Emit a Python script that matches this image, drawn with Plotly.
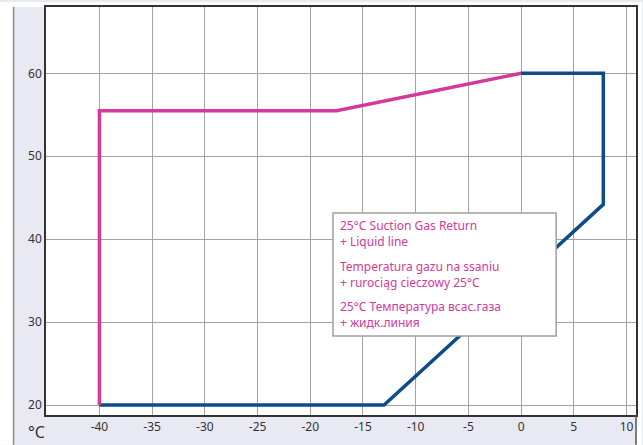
import plotly.graph_objects as go

# Data
pink_x = [-40, -40, -17.5, 0]
pink_y = [20, 55.5, 55.5, 60]
blue_x = [-40, -13, 7.8, 7.8, 0]
blue_y = [20, 20, 44.2, 60, 60]
x_ticks = [-40, -35, -30, -25, -20, -15, -10, -5, 0, 5, 10]
x_tick_labels = ["-40", "-35", "-30", "-25", "-20", "-15", "-10", "-5", "0", "5", "10"]
y_ticks = [20, 30, 40, 50, 60]
y_tick_labels = ["20", "30", "40", "50", "60"]
legend_blocks = [
    "25°C Suction Gas Return<br>+ Liquid line",
    "Temperatura gazu na ssaniu<br>+ rurociąg cieczowy 25°C",
    "25°C Температура всас.газа<br>+ жидк.линия",
]

PINK = "#D4399A"
BLUE = "#0E4B8A"
FONT = "Noto Sans"

W, H = 643, 445
L, R, T, B = 46, 6, 5, 30
pw, ph = W - L - R, H - T - B


def px2paper_x(px):
    return (px - L) / pw


def px2paper_y(py):
    return 1 - (py - T) / ph


fig = go.Figure()
fig.add_trace(go.Scatter(x=blue_x, y=blue_y, mode="lines",
                         line=dict(color=BLUE, width=3.5), hoverinfo="skip"))
fig.add_trace(go.Scatter(x=pink_x, y=pink_y, mode="lines",
                         line=dict(color=PINK, width=3.5), hoverinfo="skip"))

shapes = [
    # white area left of the panel
    dict(type="rect", xref="paper", yref="paper", x0=px2paper_x(0), x1=px2paper_x(13),
         y0=px2paper_y(H), y1=px2paper_y(0), fillcolor="white", line=dict(width=0), layer="below"),
    # white strip on top
    dict(type="rect", xref="paper", yref="paper", x0=px2paper_x(0), x1=px2paper_x(W),
         y0=1, y1=px2paper_y(0), fillcolor="white", line=dict(width=0), layer="below"),
    # white strip on the right
    dict(type="rect", xref="paper", yref="paper", x0=px2paper_x(637.5), x1=px2paper_x(W),
         y0=px2paper_y(H), y1=px2paper_y(0), fillcolor="white", line=dict(width=0), layer="below"),
    # panel borders
    dict(type="line", xref="paper", yref="paper", x0=px2paper_x(13.5), x1=px2paper_x(13.5),
         y0=px2paper_y(H), y1=1, line=dict(color="#8C8C8C", width=1.5)),
    dict(type="line", xref="paper", yref="paper", x0=1, x1=1,
         y0=px2paper_y(H), y1=0, line=dict(color="#555555", width=1.5)),
    # legend box
    dict(type="rect", xref="paper", yref="paper", x0=px2paper_x(333.5), x1=px2paper_x(557),
         y0=px2paper_y(335.5), y1=px2paper_y(212), fillcolor="white",
         line=dict(color="#A0A0A0", width=1.5), layer="above"),
]

fig.update_layout(
    width=W, height=H,
    margin=dict(l=L, r=R, t=T, b=B),
    paper_bgcolor="#E8E9F3",
    plot_bgcolor="white",
    showlegend=False,
    font=dict(family=FONT, color="#333333", size=12),
    xaxis=dict(range=[-45.07, 10.9], tickvals=x_ticks, ticktext=x_tick_labels, showgrid=True,
               gridcolor="#A3A3A3", gridwidth=1, zeroline=False,
               showline=True, linecolor="#333333", linewidth=1.5, mirror=True,
               ticks="", tickfont=dict(size=12, color="#333333"), fixedrange=True),
    yaxis=dict(range=[18.8, 68], tickvals=y_ticks, ticktext=y_tick_labels, showgrid=True,
               gridcolor="#A3A3A3", gridwidth=1, zeroline=False,
               showline=True, linecolor="#333333", linewidth=1.5, mirror=True,
               ticks="", tickfont=dict(size=12, color="#333333"), fixedrange=True),
    shapes=shapes,
)

block_centers = [233, 273.5, 314]
for txt, yc in zip(legend_blocks, block_centers):
    fig.add_annotation(
        xref="paper", yref="paper",
        x=px2paper_x(339), y=px2paper_y(yc), xanchor="left", yanchor="middle",
        text=txt, align="left", showarrow=False,
        font=dict(family=FONT, size=12, color=PINK), borderpad=0,
    )

fig.add_annotation(
    xref="paper", yref="paper",
    x=px2paper_x(36), y=px2paper_y(432), xanchor="center", yanchor="middle",
    text="°C", showarrow=False, font=dict(family=FONT, size=16, color="#333333"),
    borderpad=0,
)

fig.write_html("out.html", config={"displayModeBar": False},
               post_script="document.body.style.margin='0';")
